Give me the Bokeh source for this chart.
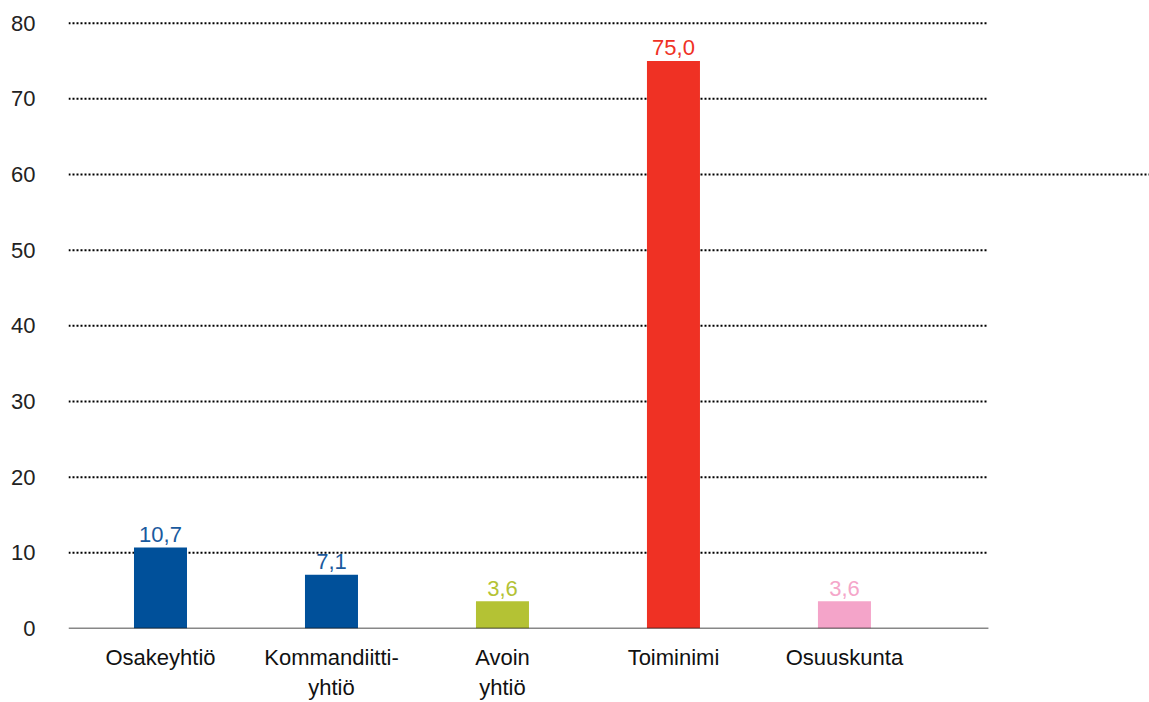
from bokeh.plotting import figure
from bokeh.models import ColumnDataSource, FixedTicker, Range1d
from bokeh.core.properties import value
from bokeh.embed import file_html
from bokeh.resources import INLINE

# ---- data ----
categories = ["Osakeyhtiö", "Kommandiitti-\nyhtiö", "Avoin\nyhtiö", "Toiminimi", "Osuuskunta"]
values = [10.7, 7.1, 3.6, 75.0, 3.6]
bar_colors = ["#00509A", "#00509A", "#B4C234", "#EF3124", "#F4A4C9"]
label_colors = ["#1A5A9E", "#1A5A9E", "#B4C234", "#EF3124", "#F5A6C9"]
y_ticks = [0, 10, 20, 30, 40, 50, 60, 70, 80]
grid_ticks = [10, 20, 30, 40, 50, 60, 70, 80]
long_grid_tick = 60

FONT = "Liberation Sans"

xs = list(range(len(categories)))
x_start, x_end, grid_end = -0.538, 5.784, 4.842

p = figure(width=1149, height=702, output_backend="svg", toolbar_location=None,
           x_range=Range1d(x_start, x_end), y_range=Range1d(0, 80.35),
           min_border_left=68, min_border_right=0, min_border_top=20, min_border_bottom=74)
p.outline_line_color = None
p.xgrid.visible = False
p.ygrid.visible = False
p.background_fill_color = "white"
p.border_fill_color = "white"

# gridlines (dotted)
gsrc = ColumnDataSource(dict(
    x0=[x_start] * len(grid_ticks),
    x1=[x_end if t == long_grid_tick else grid_end for t in grid_ticks],
    y=grid_ticks))
p.segment(x0="x0", y0="y", x1="x1", y1="y", source=gsrc,
          line_color="#000000", line_width=2, line_dash="2 2")

# bars
src = ColumnDataSource(dict(
    x=xs, top=values, color=bar_colors, lcolor=label_colors,
    label=[f"{v:.1f}".replace(".", ",") for v in values]))
p.vbar(x="x", top="top", bottom=0, width=0.31, source=src,
       fill_color="color", line_color=None)

# baseline
p.segment(x0=[x_start], y0=[0], x1=[grid_end], y1=[0], line_color="#111111", line_width=1.6)

# value labels
p.text(x="x", y="top", text="label", source=src, text_color="lcolor",
       text_font=value(FONT), text_font_size="22px", text_align="center",
       text_baseline="alphabetic", y_offset=-13)

# y axis
yax = p.yaxis[0]
yax.ticker = FixedTicker(ticks=y_ticks)
yax.axis_line_color = None
yax.major_tick_line_color = None
yax.minor_tick_line_color = None
yax.major_label_standoff = 27
yax.major_label_text_font = FONT
yax.major_label_text_font_size = "22px"
yax.major_label_text_color = "#222222"

# x axis
ax = p.xaxis[0]
ax.ticker = FixedTicker(ticks=xs)
ax.major_label_overrides = {i: c for i, c in enumerate(categories)}
ax.axis_line_color = None
ax.major_tick_line_color = None
ax.minor_tick_line_color = None
ax.major_label_standoff = 10
ax.major_label_text_font = FONT
ax.major_label_text_font_size = "22px"
ax.major_label_text_color = "#111111"

open("out.html", "w").write(file_html(p, INLINE))
